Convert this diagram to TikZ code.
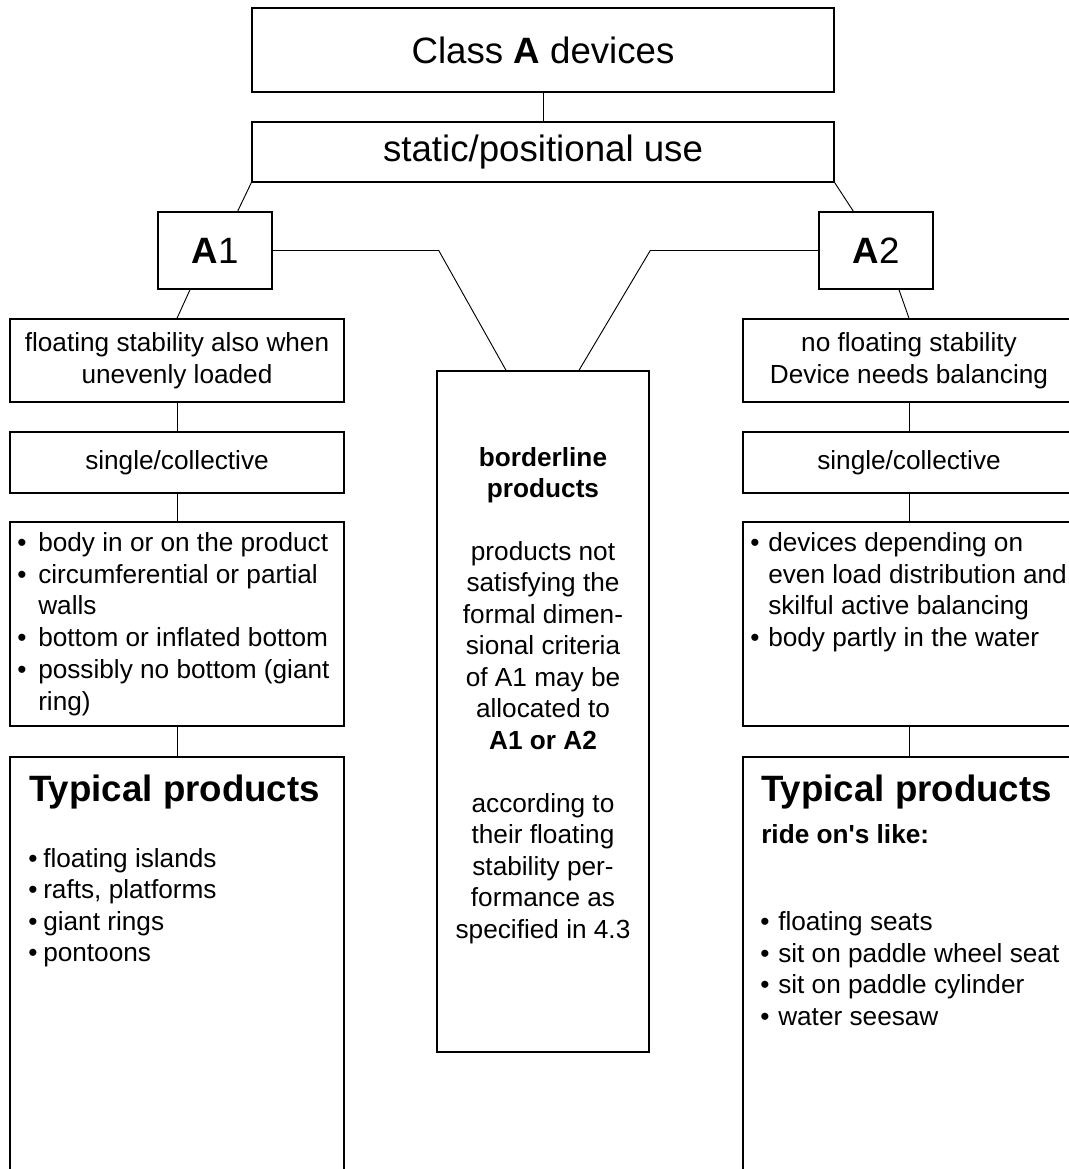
\documentclass[tikz,border=0pt]{standalone}
\usepackage{fontspec}
\setmainfont{Liberation Sans}[Ligatures=TeXOff]
\usetikzlibrary{calc}
\newcommand\myBig{\fontsize{27.5pt}{33pt}\selectfont}
\newcommand\mySmall{\fontsize{19.65pt}{23.8pt}\selectfont}
\newcommand\bulLa{\makebox[15.75pt][l]{•}}
\newcommand\bulRa{\makebox[13.5pt][l]{•}}
\newcommand\bulLb{\makebox[11.25pt][l]{•}}
\newcommand\bulRb{\makebox[13.5pt][l]{•}}
\begin{document}
\begin{tikzpicture}[x=0.75pt,y=-0.75pt,
  box/.style={draw,line width=1.1pt,inner sep=0pt},
  link/.style={line width=0.7pt},
  txt/.style={inner sep=0pt,font=\mySmall},
  ltxt/.style={txt,anchor=base west},
  ctxt/.style={txt,anchor=base}]
\useasboundingbox (0,0) rectangle (1069,1169);
\clip (0,0) rectangle (1069,1169);
% top
\node[box,minimum width=436.5pt,minimum height=63pt,font=\myBig] (cls) at (543,50) {Class \textbf{A} devices};
\node[box,minimum width=436.5pt,minimum height=45pt,font=\myBig] (use) at (543,152) {static/positional use};
\node[box,minimum width=85.5pt,minimum height=57.75pt,font=\myBig] (a1) at (215,250.5) {\textbf{A}1};
\node[box,minimum width=85.5pt,minimum height=57.75pt,font=\myBig] (a2) at (876,250.5) {\textbf{A}2};
% middle
\node[box,minimum width=159pt,minimum height=510.75pt] (mid) at (543,711.5) {};
% left column
\node[box,minimum width=250.5pt,minimum height=62.25pt,font=\mySmall,align=center] (l1) at (177,360.5) {floating stability also when\\unevenly loaded};
\node[box,minimum width=250.5pt,minimum height=45.75pt,font=\mySmall] (l2) at (177,462.5) {single/collective};
\node[box,minimum width=250.5pt,minimum height=153pt] (l3) at (177,624) {};
\node[box,minimum width=250.5pt,minimum height=324.75pt] (l4) at (177,973.5) {};
% right column
\node[box,minimum width=249pt,minimum height=62.25pt,font=\mySmall,align=center] (r1) at (909,360.5) {no floating stability\\Device needs balancing};
\node[box,minimum width=249pt,minimum height=45.75pt,font=\mySmall] (r2) at (909,462.5) {single/collective};
\node[box,minimum width=249pt,minimum height=153pt] (r3) at (909,624) {};
\node[box,minimum width=249pt,minimum height=324.75pt] (r4) at (909,973.5) {};
% connectors
\draw[link] (cls.south) -- (use.north);
\draw[link] (use.south west) -- (a1.60);
\draw[link] (use.south east) -- (a2.120);
\draw[link] (a1.east) -- ++(166,0) -- ($(mid.north)+(-37,0)$);
\draw[link] (a2.west) -- ++(-168,0) -- ($(mid.north)+(36,0)$);
\draw[link] ($(a1.south)+(-25,0)$) -- (l1.north);
\draw[link] ($(a2.south)+(23,0)$) -- (r1.north);
\draw[link] (l1.south) -- (l2.north);
\draw[link] (l2.south) -- (l3.north);
\draw[link] (l3.south) -- (l4.north);
\draw[link] (r1.south) -- (r2.north);
\draw[link] (r2.south) -- (r3.north);
\draw[link] (r3.south) -- (r4.north);
% left bullet box
\node[ltxt] (l3a) at (17,551) {\bulLa body in or on the product};
\node[ltxt] (l3b) at (17,583) {\bulLa circumferential or partial};
\node[ltxt] (l3c) at (38,614) {walls};
\node[ltxt] (l3d) at (17,646) {\bulLa bottom or inflated bottom};
\node[ltxt] (l3e) at (17,678) {\bulLa possibly no bottom (giant};
\node[ltxt] (l3f) at (38,710) {ring)};
% left typical products
\node[txt,anchor=base west,font=\myBig\bfseries] (l4t) at (29,801) {Typical products};
\node[ltxt] (l4a) at (28,867) {\bulLb floating islands};
\node[ltxt] (l4b) at (28,898) {\bulLb rafts, platforms};
\node[ltxt] (l4c) at (28,930) {\bulLb giant rings};
\node[ltxt] (l4d) at (28,961) {\bulLb pontoons};
% right bullet box
\node[ltxt] (r3a) at (750,551) {\bulRa devices depending on};
\node[ltxt] (r3b) at (768,583) {even load distribution and};
\node[ltxt] (r3c) at (768,614) {skilful active balancing};
\node[ltxt] (r3d) at (750,646) {\bulRa body partly in the water};
% right typical products
\node[txt,anchor=base west,font=\myBig\bfseries] (r4t) at (761,801) {Typical products};
\node[ltxt,font=\mySmall\bfseries] (r4r) at (761,843) {ride on's like:};
\node[ltxt] (r4a) at (760,930) {\bulRb floating seats};
\node[ltxt] (r4b) at (760,962) {\bulRb sit on paddle wheel seat};
\node[ltxt] (r4c) at (760,993) {\bulRb sit on paddle cylinder};
\node[ltxt] (r4d) at (760,1025) {\bulRb water seesaw};
% middle text
\node[ctxt,font=\mySmall\bfseries] (m1) at (543,466) {borderline};
\node[ctxt,font=\mySmall\bfseries] (m2) at (543,497) {products};
\node[ctxt] (m3) at (543,560) {products not};
\node[ctxt] (m4) at (543,591) {satisfying the};
\node[ctxt] (m5) at (543,623) {formal dimen-};
\node[ctxt] (m6) at (543,654) {sional criteria};
\node[ctxt] (m7) at (543,686) {of A1 may be};
\node[ctxt] (m8) at (543,717) {allocated to};
\node[ctxt,font=\mySmall\bfseries] (m9) at (543,749) {A1 or A2};
\node[ctxt] (m10) at (543,812) {according to};
\node[ctxt] (m11) at (543,843) {their floating};
\node[ctxt] (m12) at (543,875) {stability per-};
\node[ctxt] (m13) at (543,906) {formance as};
\node[ctxt] (m14) at (543,938) {specified in 4.3};
\end{tikzpicture}
\end{document}
